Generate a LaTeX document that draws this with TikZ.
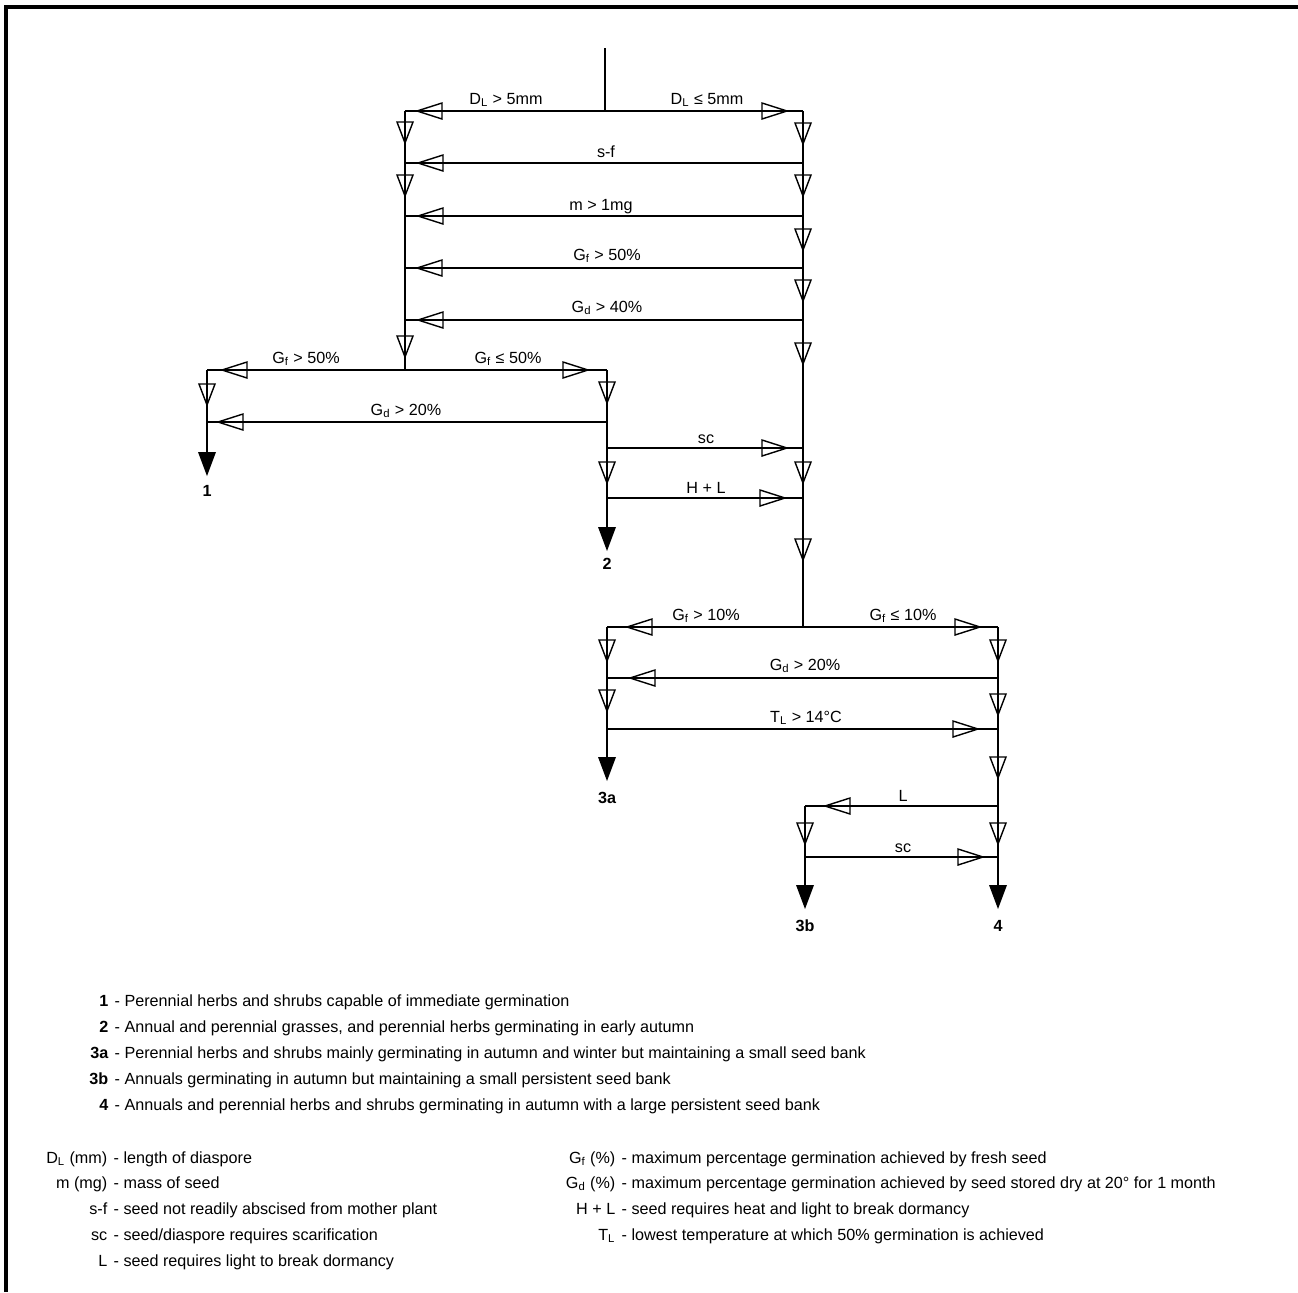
\documentclass[tikz,border=0pt]{standalone}
\usepackage{fontspec}
\setmainfont{Liberation Sans}
\newcommand{\fsz}{\fontsize{9.2}{11}\selectfont}
\newcommand{\sbs}[1]{\textsubscript{#1}}
\tikzset{
  hdown/.pic={\draw (-8,0) -- (8,0) -- (0,21) -- cycle;},
  hleft/.pic={\draw (0,0) -- (25,-8) -- (25,8) -- cycle;},
  hright/.pic={\draw (0,0) -- (-25,-8) -- (-25,8) -- cycle;},
  fdown/.pic={\fill (-9,0) -- (9,0) -- (0,24) -- cycle;},
  lbl/.style={font=\fsz, inner sep=0pt, anchor=base},
  endlbl/.style={font=\fsz\bfseries, inner sep=0pt, anchor=base},
  keyl/.style={font=\fsz, inner sep=0pt, anchor=base east},
  keyd/.style={font=\fsz, inner sep=0pt, anchor=base west},
  frame/.style={line width=1.8pt}
}
\begin{document}
\begin{tikzpicture}[x=0.02cm, y=-0.02cm, line width=0.8pt]
\useasboundingbox (0,0) rectangle (1298,1292);
\draw[frame] (6,1292) -- (6,7) -- (1298,7);

% junction coordinates
\coordinate (t0) at (605,48);  \coordinate (t1) at (605,111);
\coordinate (a1) at (405,111); \coordinate (b1) at (803,111);
\coordinate (a2) at (405,163); \coordinate (b2) at (803,163);
\coordinate (a3) at (405,216); \coordinate (b3) at (803,216);
\coordinate (a4) at (405,268); \coordinate (b4) at (803,268);
\coordinate (a5) at (405,320); \coordinate (b5) at (803,320);
\coordinate (a6) at (405,370);
\coordinate (c6) at (207,370); \coordinate (d6) at (607,370);
\coordinate (c7) at (207,422); \coordinate (d7) at (607,422);
\coordinate (ce) at (207,452);
\coordinate (d8) at (607,448); \coordinate (b8) at (803,448);
\coordinate (d9) at (607,498); \coordinate (b9) at (803,498);
\coordinate (de) at (607,527);
\coordinate (b10) at (803,627);
\coordinate (g11) at (607,627); \coordinate (e11) at (998,627);
\coordinate (g12) at (607,678); \coordinate (e12) at (998,678);
\coordinate (g13) at (607,729); \coordinate (e13) at (998,729);
\coordinate (ge) at (607,757);
\coordinate (f15) at (805,806); \coordinate (e15) at (998,806);
\coordinate (f16) at (805,857); \coordinate (e16) at (998,857);
\coordinate (fe) at (805,885); \coordinate (ee) at (998,885);

% lines
\draw (t0) -- (t1);
\draw (a1) -- (b1);
\draw (a1) -- (a6);
\draw (b1) -- (b10);
\draw (b2) -- (a2);
\draw (b3) -- (a3);
\draw (b4) -- (a4);
\draw (b5) -- (a5);
\draw (c6) -- (d6);
\draw (c6) -- (ce);
\draw (d6) -- (de);
\draw (d7) -- (c7);
\draw (d8) -- (b8);
\draw (d9) -- (b9);
\draw (g11) -- (e11);
\draw (g11) -- (ge);
\draw (e11) -- (ee);
\draw (e12) -- (g12);
\draw (g13) -- (e13);
\draw (e15) -- (f15);
\draw (f15) -- (fe);
\draw (f16) -- (e16);

% hollow arrowheads: horizontal
\pic at (417,111) {hleft};  \pic at (787,111) {hright};
\pic at (418,163) {hleft};
\pic at (418,216) {hleft};
\pic at (417,268) {hleft};
\pic at (418,320) {hleft};
\pic at (222,370) {hleft};  \pic at (588,370) {hright};
\pic at (218,422) {hleft};
\pic at (787,448) {hright};
\pic at (785,498) {hright};
\pic at (627,627) {hleft};  \pic at (980,627) {hright};
\pic at (630,678) {hleft};
\pic at (978,729) {hright};
\pic at (825,806) {hleft};
\pic at (983,857) {hright};

% hollow arrowheads: vertical
\pic at (405,122) {hdown}; \pic at (405,175) {hdown}; \pic at (405,336) {hdown};
\pic at (803,123) {hdown}; \pic at (803,175) {hdown}; \pic at (803,229) {hdown};
\pic at (803,280) {hdown}; \pic at (803,343) {hdown}; \pic at (803,462) {hdown};
\pic at (803,539) {hdown};
\pic at (207,384) {hdown};
\pic at (607,382) {hdown}; \pic at (607,462) {hdown};
\pic at (607,640) {hdown}; \pic at (607,690) {hdown};
\pic at (998,640) {hdown}; \pic at (998,694) {hdown}; \pic at (998,757) {hdown};
\pic at (998,823) {hdown};
\pic at (805,823) {hdown};

% filled arrowheads
\pic at (ce) {fdown};
\pic at (de) {fdown};
\pic at (ge) {fdown};
\pic at (fe) {fdown};
\pic at (ee) {fdown};

% end labels
\node[endlbl] (n1) at (207,496) {1};
\node[endlbl] (n2) at (607,569) {2};
\node[endlbl] (n3a) at (607,803) {3a};
\node[endlbl] (n3b) at (805,931) {3b};
\node[endlbl] (n4) at (998,931) {4};

% branch labels
\node[lbl] (l1) at (506,104) {D\sbs{L} > 5mm};
\node[lbl] (l2) at (707,104) {D\sbs{L} ≤ 5mm};
\node[lbl] (l3) at (606,157) {s-f};
\node[lbl] (l4) at (601,210) {m > 1mg};
\node[lbl] (l5) at (607,260) {G\sbs{f} > 50\%};
\node[lbl] (l6) at (607,312) {G\sbs{d} > 40\%};
\node[lbl] (l7) at (306,363) {G\sbs{f} > 50\%};
\node[lbl] (l8) at (508,363) {G\sbs{f} ≤ 50\%};
\node[lbl] (l9) at (406,415) {G\sbs{d} > 20\%};
\node[lbl] (l10) at (706,443) {sc};
\node[lbl] (l11) at (706,493) {H + L};
\node[lbl] (l12) at (706,620) {G\sbs{f} > 10\%};
\node[lbl] (l13) at (903,620) {G\sbs{f} ≤ 10\%};
\node[lbl] (l14) at (805,670) {G\sbs{d} > 20\%};
\node[lbl] (l15) at (806,722) {T\sbs{L} > 14°C};
\node[lbl] (l16) at (903,801) {L};
\node[lbl] (l17) at (903,852) {sc};

% key: groups
\node[keyl, font=\fsz\bfseries] (k1) at (109,1006) {1};
\node[keyd] (kd1) at (114,1006) {- Perennial herbs and shrubs capable of immediate germination};
\node[keyl, font=\fsz\bfseries] (k2) at (109,1032) {2};
\node[keyd] (kd2) at (114,1032) {- Annual and perennial grasses, and perennial herbs germinating in early autumn};
\node[keyl, font=\fsz\bfseries] (k3) at (109,1058) {3a};
\node[keyd] (kd3) at (114,1058) {- Perennial herbs and shrubs mainly germinating in autumn and winter but maintaining a small seed bank};
\node[keyl, font=\fsz\bfseries] (k4) at (109,1084) {3b};
\node[keyd] (kd4) at (114,1084) {- Annuals germinating in autumn but maintaining a small persistent seed bank};
\node[keyl, font=\fsz\bfseries] (k5) at (109,1110) {4};
\node[keyd] (kd5) at (114,1110) {- Annuals and perennial herbs and shrubs germinating in autumn with a large persistent seed bank};

% key: abbreviations (left)
\node[keyl] (m1) at (108,1163) {D\sbs{L} (mm)};
\node[keyd] (md1) at (113,1163) {- length of diaspore};
\node[keyl] (m2) at (108,1188) {m (mg)};
\node[keyd] (md2) at (113,1188) {- mass of seed};
\node[keyl] (m3) at (108,1214) {s-f};
\node[keyd] (md3) at (113,1214) {- seed not readily abscised from mother plant};
\node[keyl] (m4) at (108,1240) {sc};
\node[keyd] (md4) at (113,1240) {- seed/diaspore requires scarification};
\node[keyl] (m5) at (108,1266) {L};
\node[keyd] (md5) at (113,1266) {- seed requires light to break dormancy};

% key: abbreviations (right)
\node[keyl] (r1) at (616,1163) {G\sbs{f} (\%)};
\node[keyd] (rd1) at (621,1163) {- maximum percentage germination achieved by fresh seed};
\node[keyl] (r2) at (616,1188) {G\sbs{d} (\%)};
\node[keyd] (rd2) at (621,1188) {- maximum percentage germination achieved by seed stored dry at 20° for 1 month};
\node[keyl] (r3) at (616,1214) {H + L};
\node[keyd] (rd3) at (621,1214) {- seed requires heat and light to break dormancy};
\node[keyl] (r4) at (616,1240) {T\sbs{L}};
\node[keyd] (rd4) at (621,1240) {- lowest temperature at which 50\% germination is achieved};
\end{tikzpicture}
\end{document}
